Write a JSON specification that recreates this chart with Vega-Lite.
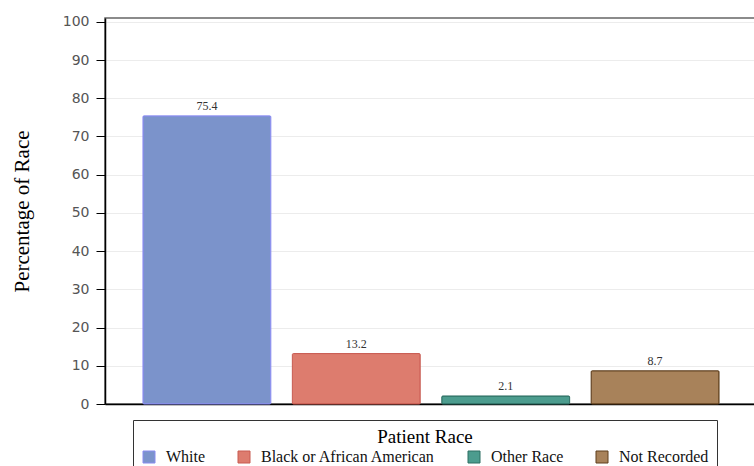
{
  "$schema": "https://vega.github.io/schema/vega-lite/v6.json",
  "autosize": "none",
  "padding": {"left": 105, "top": 18, "right": 0, "bottom": 62},
  "width": 652,
  "height": 386,
  "background": "white",
  "data": {
    "values": [
      {"race": "White", "pct": 75.4},
      {"race": "Black or African American", "pct": 13.2},
      {"race": "Other Race", "pct": 2.1},
      {"race": "Not Recorded", "pct": 8.7}
    ]
  },
  "config": {
    "view": {"stroke": "#666", "strokeWidth": 1.5},
    "legend": {
      "orient": "none",
      "legendX": 28,
      "legendY": 402,
      "direction": "horizontal",
      "strokeColor": "#333",
      "padding": 8,
      "titleOrient": "top",
      "titleAnchor": "middle",
      "titleFont": "Liberation Serif",
      "titleFontSize": 19,
      "titleFontWeight": "normal",
      "titleColor": "#000",
      "titlePadding": 2,
      "labelFont": "Liberation Serif",
      "labelFontSize": 16,
      "labelColor": "#111",
      "labelLimit": 400,
      "symbolType": "square",
      "symbolSize": 144,
      "symbolStrokeWidth": 1,
      "columnPadding": 30,
      "labelOffset": 9
    }
  },
  "encoding": {
    "x": {
      "field": "race",
      "type": "nominal",
      "sort": null,
      "scale": {"paddingInner": 0.144, "paddingOuter": 0.254},
      "axis": {"labels": false, "ticks": false, "title": null, "domainColor": "#000", "domainWidth": 1.5}
    },
    "y": {
      "field": "pct",
      "type": "quantitative",
      "scale": {"domain": [0, 101], "nice": false},
      "axis": {
        "values": [0, 10, 20, 30, 40, 50, 60, 70, 80, 90, 100],
        "title": "Percentage of Race",
        "titleFont": "Liberation Serif",
        "titleFontSize": 21,
        "titleFontWeight": "normal",
        "titleColor": "#000",
        "titleAngle": -90,
        "titleX": -83,
        "titleY": 193,
        "titleAlign": "center",
        "titleBaseline": "middle",
        "labelFont": "DejaVu Sans",
        "labelFontSize": 14,
        "labelColor": "#555",
        "labelPadding": 7,
        "tickColor": "#000",
        "tickSize": 9,
        "domainColor": "#000",
        "domainWidth": 1.5,
        "gridColor": "#ececec",
        "gridWidth": 1
      }
    }
  },
  "layer": [
    {
      "mark": {"type": "bar", "strokeWidth": 1, "cornerRadius": 1},
      "encoding": {
        "fill": {
          "field": "race",
          "type": "nominal",
          "sort": null,
          "title": "Patient Race",
          "scale": {
            "domain": ["White", "Black or African American", "Other Race", "Not Recorded"],
            "range": ["#7b93cb", "#dd7c6e", "#4c9c8e", "#a8825a"]
          }
        },
        "stroke": {
          "field": "race",
          "type": "nominal",
          "sort": null,
          "title": "Patient Race",
          "scale": {
            "domain": ["White", "Black or African American", "Other Race", "Not Recorded"],
            "range": ["#8a8cf0", "#c85a50", "#2d6f63", "#5e3e1c"]
          }
        }
      }
    },
    {
      "mark": {"type": "text", "baseline": "bottom", "dy": -3, "font": "Liberation Serif", "fontSize": 12, "color": "#333"},
      "encoding": {
        "text": {"field": "pct", "type": "quantitative", "format": ".1f"}
      }
    }
  ]
}
